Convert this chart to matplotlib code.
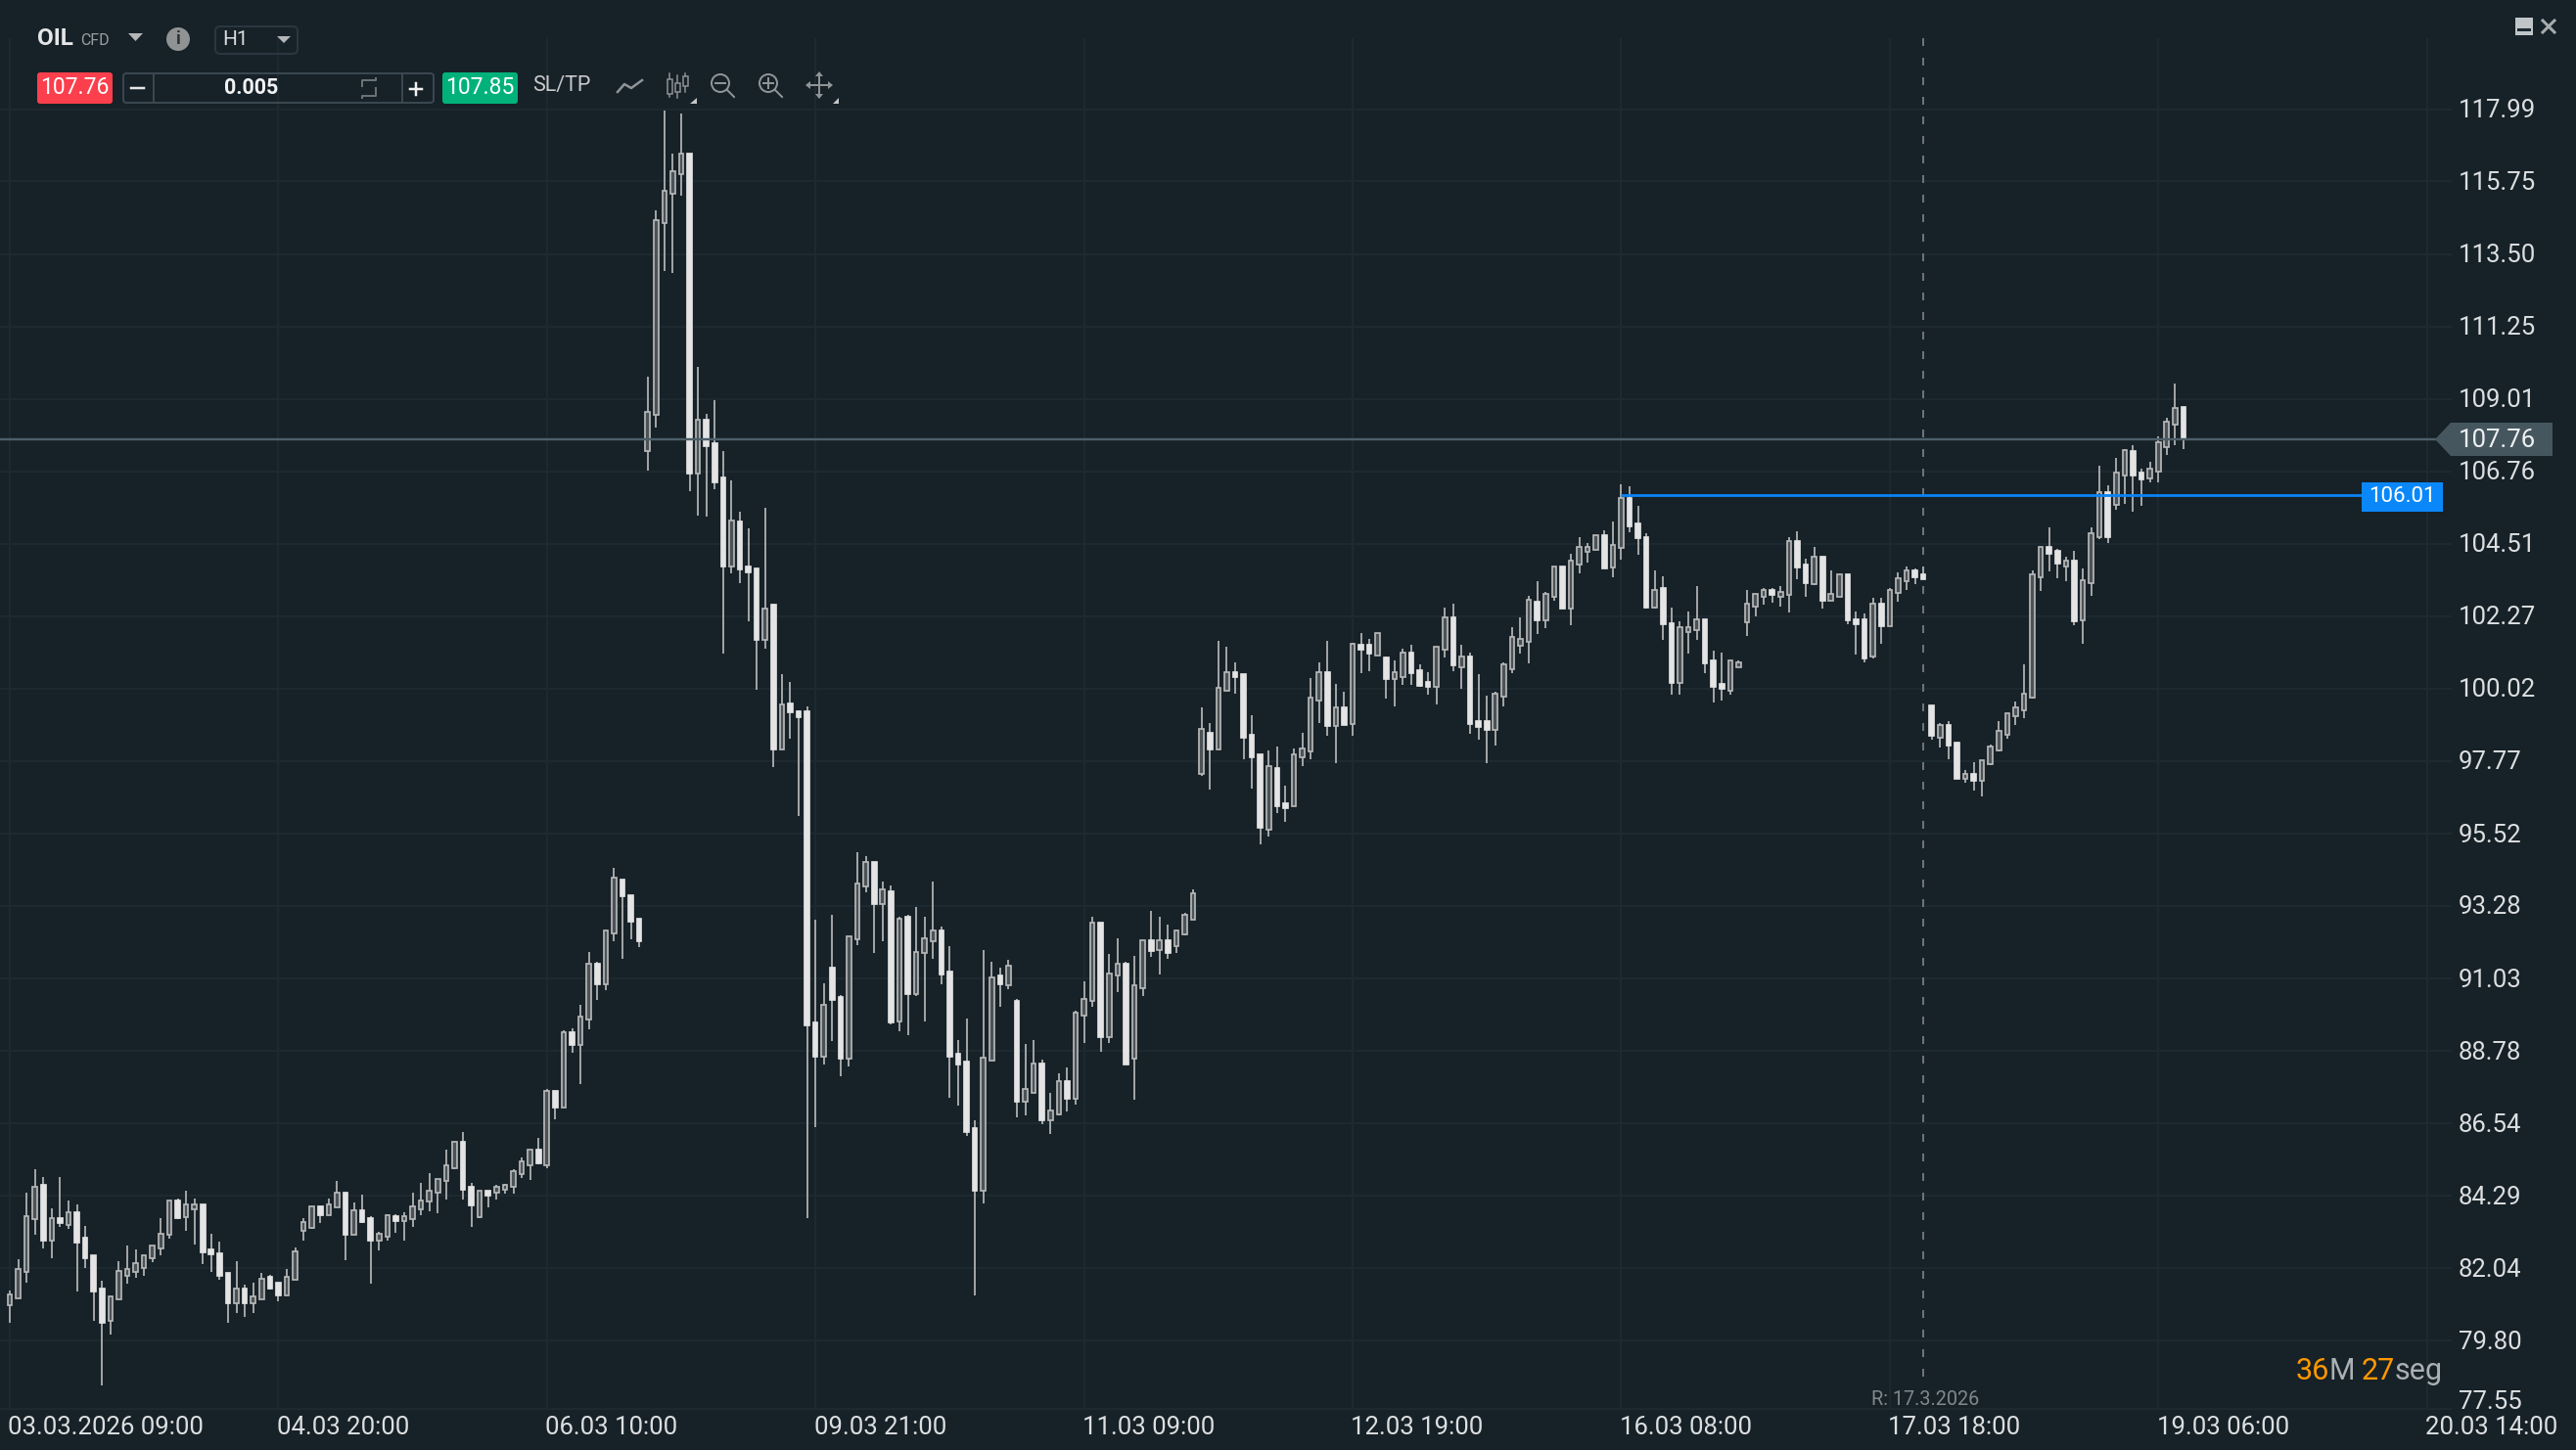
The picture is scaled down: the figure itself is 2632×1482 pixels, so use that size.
import matplotlib
matplotlib.use("Agg")
import matplotlib.pyplot as plt
from matplotlib import transforms
from matplotlib.patches import FancyBboxPatch, Rectangle, Polygon, Circle

opens = [80.90,81.10,81.93,83.57,84.62,82.90,83.59,83.38,83.77,82.99,
82.46,81.42,80.41,81.07,81.81,81.93,82.05,82.36,82.66,83.07,
84.15,83.63,83.87,84.03,82.63,82.51,81.90,80.95,81.41,80.95,
81.07,81.78,81.60,81.19,81.68,83.20,83.30,83.97,83.68,83.93,
84.39,83.08,83.84,83.60,82.89,83.01,83.66,83.51,83.57,83.87,
84.12,84.38,84.74,85.14,85.98,84.58,83.64,84.45,84.38,84.48,
84.56,84.96,85.23,85.73,85.25,87.55,87.03,89.37,88.97,89.76,
91.50,90.85,92.44,94.11,93.62,92.89,107.39,108.52,114.47,115.36,
115.97,116.62,106.68,108.35,107.64,106.56,103.82,105.21,103.82,103.75,
101.52,102.61,98.12,99.57,99.33,99.31,89.67,88.60,91.37,90.46,
88.54,92.25,93.88,94.65,93.33,93.74,89.69,92.95,90.54,91.82,
92.19,92.52,91.25,88.70,88.46,86.39,84.46,88.48,91.13,90.82,
90.34,87.20,87.49,88.40,86.64,86.82,87.85,87.30,89.87,90.34,
92.77,89.21,91.13,91.49,88.56,90.74,92.22,91.90,92.22,92.02,
92.40,92.86,97.38,98.65,98.12,99.94,100.53,100.47,98.59,97.98,
95.64,97.56,96.47,96.36,97.88,98.08,99.64,100.53,98.85,99.44,
98.92,101.38,101.38,101.06,100.98,100.31,100.37,101.14,100.59,100.23,
100.08,101.23,102.23,100.67,101.02,99.01,99.01,98.73,99.77,100.61,
101.34,101.47,102.72,102.14,102.87,103.81,102.49,103.88,104.25,104.31,
104.79,103.79,104.38,105.93,105.14,104.72,102.54,103.14,102.05,100.19,
101.78,101.83,102.17,100.90,100.17,99.95,100.69,102.07,102.57,102.87,
103.08,102.87,102.93,104.60,103.87,103.26,104.12,102.75,102.87,103.57,
102.17,102.17,101.02,102.66,101.96,103.00,103.36,103.69,103.57,99.50,
98.50,98.90,98.35,97.23,97.38,97.17,97.68,98.11,98.59,99.17,
99.35,99.74,103.47,104.42,104.30,103.81,103.99,102.13,103.29,104.72,
106.12,105.71,106.62,107.40,106.73,106.55,106.76,107.52,108.21,108.74]

highs = [81.36,82.32,84.39,85.12,84.88,83.90,84.88,84.16,84.03,83.36,
82.46,81.66,81.17,82.27,82.75,82.63,82.46,82.75,83.60,84.15,
84.21,84.45,84.21,84.03,83.12,82.87,81.90,82.27,81.54,81.60,
81.90,81.84,81.60,82.02,82.69,83.60,83.97,83.97,84.21,84.75,
84.39,84.09,84.33,83.66,83.18,83.72,83.72,83.78,84.39,84.69,
85.00,84.80,85.73,85.98,86.28,84.70,84.46,84.45,84.62,84.65,
85.11,85.49,85.73,86.10,87.61,87.55,89.43,89.50,90.22,91.86,
91.56,92.53,94.47,94.11,93.62,92.89,109.68,114.84,117.93,116.62,
117.84,116.62,109.99,108.54,108.97,107.39,106.48,105.52,104.98,103.75,
105.64,102.65,100.47,100.24,99.36,99.48,92.84,90.88,93.01,90.51,
92.34,94.96,94.83,94.65,94.04,93.92,92.94,93.01,93.26,92.95,
94.04,92.64,92.04,89.12,89.79,86.64,91.92,91.55,91.37,91.61,
90.40,89.00,89.12,88.52,87.49,88.09,88.28,90.03,90.94,92.95,
92.77,91.79,92.28,91.55,91.73,92.22,93.13,92.95,92.70,92.52,
93.07,93.80,99.44,98.95,101.50,101.32,100.83,100.47,99.20,97.98,
98.10,98.22,97.01,98.16,98.65,100.35,100.83,101.50,100.17,99.92,
101.44,101.74,101.56,101.74,101.02,100.89,101.26,101.38,100.77,100.53,
101.32,102.53,102.65,101.38,101.14,100.47,99.80,99.92,100.83,101.93,
102.23,102.90,103.35,103.02,103.81,103.81,104.19,104.73,104.55,104.79,
104.92,105.21,106.36,106.30,105.69,104.84,103.69,103.51,102.54,102.11,
102.41,103.20,102.17,101.20,101.14,100.90,100.90,103.08,102.96,103.14,
103.14,103.20,104.72,104.90,104.05,104.42,104.12,103.69,103.57,103.57,
102.41,102.35,102.84,102.84,103.14,103.63,103.81,103.75,103.81,99.50,
98.96,99.02,98.35,97.50,97.74,97.80,98.29,99.02,99.26,99.62,
100.78,103.69,104.42,105.02,104.36,104.11,104.30,103.75,105.02,106.92,
106.31,107.16,107.46,107.58,106.85,107.04,107.83,108.41,109.47,108.74]

lows = [80.34,81.10,81.61,83.08,82.65,82.35,83.32,83.26,81.32,82.04,
80.41,78.40,79.98,81.07,81.56,81.74,81.80,82.22,82.46,82.95,
83.56,83.20,82.77,82.16,81.92,81.68,80.34,80.65,80.53,80.65,
81.07,81.38,81.01,81.19,81.68,82.89,83.26,83.44,83.68,83.93,
82.29,83.08,83.44,81.56,82.59,82.89,83.14,82.89,83.32,83.68,
83.80,83.74,84.18,85.11,84.18,83.34,83.59,83.94,84.18,84.35,
84.35,84.84,84.78,85.26,85.15,86.66,87.03,88.73,87.76,89.45,
90.37,90.67,92.19,91.64,92.25,92.00,106.79,108.13,112.98,112.92,
115.30,106.14,105.39,105.35,106.20,101.11,103.58,103.29,102.11,99.99,
101.26,97.58,98.12,98.47,96.06,83.61,86.41,88.36,89.08,87.99,
88.30,92.06,93.70,91.81,92.18,89.61,89.39,89.27,90.48,89.69,
91.63,90.84,87.32,87.08,86.15,81.20,84.05,88.48,90.16,90.70,
86.72,86.78,87.49,86.52,86.21,86.78,86.90,87.12,89.02,90.16,
88.76,89.02,90.60,88.36,87.26,90.48,91.69,91.15,91.63,91.81,
92.36,92.86,97.32,96.89,98.12,99.94,99.86,97.82,96.91,95.19,
95.43,96.16,95.88,96.36,97.62,97.82,98.95,98.55,97.70,98.89,
98.55,100.49,100.55,101.06,99.70,99.46,100.13,100.13,100.07,99.82,
99.52,100.98,100.55,100.00,98.61,98.43,97.70,98.25,99.46,100.49,
101.10,100.79,101.70,101.89,102.73,102.49,102.00,103.58,103.94,104.31,
103.76,103.47,104.01,104.87,104.17,102.50,102.50,101.52,99.82,99.82,
101.10,101.52,100.49,99.58,99.65,99.82,100.69,101.65,102.25,102.62,
102.68,102.56,102.38,103.41,102.86,103.22,102.50,102.75,102.87,102.01,
101.08,100.84,100.96,101.40,101.96,102.72,103.08,103.26,103.42,98.43,
98.19,97.82,97.21,97.10,96.85,96.67,97.64,98.07,98.47,98.90,
99.10,99.70,103.04,103.65,103.45,103.35,101.99,101.40,102.90,104.67,
104.55,105.58,105.76,105.52,105.70,106.42,106.42,107.28,107.58,107.46]

closes = [81.22,82.01,83.65,84.56,82.90,83.59,83.44,83.77,82.83,82.35,
81.32,80.34,81.17,81.95,82.01,82.20,82.44,82.74,83.12,84.15,
83.60,84.03,84.03,82.53,82.47,81.80,80.95,81.41,80.95,81.16,
81.72,81.42,81.19,81.78,82.57,83.48,83.97,83.68,84.03,84.39,
83.08,83.84,83.48,82.89,83.12,83.68,83.50,83.66,83.97,84.15,
84.44,84.80,85.25,85.98,84.48,84.01,84.46,84.30,84.58,84.62,
85.07,85.37,85.73,85.31,87.55,87.03,89.37,88.97,89.86,91.50,
90.85,92.53,94.17,93.58,92.79,92.19,108.60,114.54,115.46,116.06,
116.62,106.68,108.35,107.55,106.43,103.82,105.24,103.72,103.63,101.52,
102.51,98.12,99.54,99.28,99.14,89.57,88.60,90.22,90.36,88.54,
92.34,93.98,94.65,93.33,93.80,89.67,92.89,90.54,91.86,92.28,
92.52,91.15,88.60,88.36,86.27,84.46,88.58,91.07,90.84,91.43,
87.20,87.61,88.40,86.64,86.94,87.85,87.30,89.97,90.40,92.77,
89.21,91.19,91.49,88.36,90.82,92.22,91.88,92.22,91.81,92.52,
93.01,93.68,98.77,98.12,100.05,100.53,100.38,98.49,97.88,95.70,
97.62,96.36,96.30,97.98,98.16,99.74,100.53,98.85,99.44,98.89,
101.40,101.22,101.10,101.74,100.31,100.53,101.14,100.49,100.11,100.08,
101.32,102.23,100.73,101.02,98.92,98.83,98.73,99.86,100.77,101.62,
101.56,102.78,102.14,102.96,103.81,102.49,104.00,104.42,104.42,104.79,
103.76,104.48,105.93,105.05,104.69,102.54,103.08,102.02,100.19,101.93,
101.93,102.17,100.80,100.07,100.02,100.90,100.84,102.66,102.96,103.08,
102.93,103.02,104.60,103.79,103.30,104.12,102.75,102.95,103.57,102.14,
102.02,100.96,102.66,101.96,103.08,103.45,103.69,103.47,103.42,98.55,
98.90,98.25,97.21,97.38,97.17,97.80,98.23,98.71,99.26,99.44,
99.87,103.57,104.42,104.19,103.89,103.99,102.11,103.39,104.84,106.12,
104.72,106.72,107.42,106.62,106.51,106.85,107.65,108.29,108.73,107.76]

price_ticks = [117.99,115.75,113.50,111.25,109.01,106.76,104.51,102.27,100.02,97.77,
               95.52,93.28,91.03,88.78,86.54,84.29,82.04,79.80,77.55]
time_positions = [0,32,64,96,128,160,192,224,256,288]
time_labels = ['03.03.2026 09:00','04.03 20:00','06.03 10:00','09.03 21:00','11.03 09:00',
               '12.03 19:00','16.03 08:00','17.03 18:00','19.03 06:00','20.03 14:00']
current_price = 107.76
ask_price = 107.85
level_price = 106.01
level_start = 192
cross_index = 228

assert len(opens) == len(highs) == len(lows) == len(closes)

W, H = 2632, 1482
BG = '#172128'; GRID = '#1d2930'
FILL = '#e4e4e4'; EDGE = '#b8b9b9'; WICK = '#a8aaab'; INNER = '#4b5357'
plt.rcParams['font.family'] = ['Roboto', 'DejaVu Sans']

fig = plt.figure(figsize=(W/100, H/100), dpi=100, facecolor=BG)
ax = fig.add_axes([0, 0, 1, 1], facecolor=BG)
ax.set_xlim(-10/8.575, (W-10)/8.575)
ax.set_ylim(109.01-(H-407.5)/32.96, 109.01+407.5/32.96)
ax.axis('off')
ui = fig.add_axes([0, 0, 1, 1], facecolor='none')
ui.set_xlim(0, W); ui.set_ylim(H, 0); ui.axis('off')

px = 0.72  # points per pixel
# grid
grid_bottom = 77.67
ax.vlines(time_positions, grid_bottom, 120.2, color=GRID, lw=2*px, zorder=1)
grid_vals = price_ticks[:-1] + [grid_bottom]
ax.hlines(grid_vals, -1.2, 291, color=GRID, lw=2*px, zorder=1)

# candles
idx = list(range(len(opens)))
ax.vlines(idx, lows, highs, color=WICK, lw=1.9*px, zorder=3)
bw = 4.6/8.575
up = [i for i in idx if closes[i] >= opens[i]]
dn = [i for i in idx if closes[i] < opens[i]]
ax.bar(up, [closes[i]-opens[i] for i in up], bottom=[opens[i] for i in up], width=bw,
       facecolor=INNER, edgecolor=EDGE, linewidth=1.7*px, zorder=4)
ax.bar(dn, [opens[i]-closes[i] for i in dn], bottom=[closes[i] for i in dn], width=bw,
       facecolor=FILL, edgecolor=FILL, linewidth=1.7*px, zorder=4)

# price lines
ax.hlines(current_price, -1.2, (2490-10)/8.575, color='#4c5f69', lw=2.4*px, zorder=5)
ax.hlines(level_price, level_start, (2415-10)/8.575, color='#0a84f5', lw=2.8*px, zorder=6)
ax.vlines(cross_index, 78.7, 120.2, color='#6c7478', lw=2*px, linestyles=(0, (4, 6)), zorder=2)

# axis labels
yt = transforms.blended_transform_factory(ui.transData, ax.transData)
xt = transforms.blended_transform_factory(ax.transData, ui.transData)
TXT = '#dcdfe0'
FS = 18.5
dy = transforms.ScaledTranslation(0, -1.5/100, fig.dpi_scale_trans)
for v in price_ticks[:-1]:
    ui.text(2512, v, f'{v:.2f}', transform=yt + dy, color=TXT, fontsize=FS, va='center', ha='left', zorder=9)
ui.text(2512, 1433, f'{price_ticks[-1]:.2f}', color=TXT, fontsize=FS, va='center', ha='left')
dx = transforms.ScaledTranslation(-1.5/100, 0, fig.dpi_scale_trans)
for p, l in zip(time_positions, time_labels):
    ui.text(p, 1459, l, transform=xt + dx, color=TXT, fontsize=FS, va='center', ha='left')

# current price tag
ui.add_patch(Polygon([(2488, 449), (2504, 432), (2608, 432), (2608, 466), (2504, 466)], color='#45565f', lw=0, zorder=7))
ui.text(2512, current_price, f'{current_price:.2f}', transform=yt + dy, color='#eef0f1', fontsize=FS, va='center', ha='left', zorder=9)
# level tag
ui.add_patch(Rectangle((2413, 493), 83, 30, color='#0a88fa', lw=0, zorder=7))
ui.text(2454.5, level_price, f'{level_price:.2f}', transform=yt + dy, color='white', fontsize=16, va='center', ha='center', zorder=9)

# countdown
for x, s, c in [(2346, '36', '#ff9800'), (2380, 'M', '#aab0b3'), (2413, '27', '#ff9800'), (2447, 'seg', '#aab0b3')]:
    ui.text(x, 1402, s, color=c, fontsize=22, va='center', ha='left')
ui.text(1912, 1431, 'R: 17.3.2026', color='#81888c', fontsize=14.3, va='center', ha='left')

# toolbar row 1
ui.text(38, 40, 'OIL', color='#e4e6e7', fontsize=17.5, fontweight='bold', va='center', ha='left')
ui.text(82, 41, 'CFD', color='#9a9fa3', fontsize=11.5, va='center', ha='left')
ui.add_patch(Polygon([(131, 34), (146, 34), (138.5, 42)], color='#b4b6b7', lw=0))
ui.add_patch(Circle((182, 40), 12, color='#8f9394', lw=0))
ui.text(182, 40, 'i', color='#2a3238', fontsize=13, fontweight='bold', va='center', ha='center')
ui.add_patch(FancyBboxPatch((220, 27), 84, 28, boxstyle='round,pad=0,rounding_size=5', fc='none', ec='#2a3740', lw=2*px))
ui.text(227, 41, 'H1', color='#d8dadb', fontsize=15, va='center', ha='left')
ui.add_patch(Polygon([(283, 37), (297, 37), (290, 44)], color='#b4b6b7', lw=0))

# toolbar row 2
ui.add_patch(FancyBboxPatch((38, 74), 77, 32, boxstyle='round,pad=0,rounding_size=3', fc='#fb3f4c', ec='none'))
ui.text(76.5, 90, f'{current_price:.2f}', color='white', fontsize=16.5, va='center', ha='center')
ui.add_patch(FancyBboxPatch((126, 75), 317, 30, boxstyle='round,pad=0,rounding_size=3', fc='none', ec='#3a4750', lw=2*px))
ui.plot([157, 157], [75, 105], color='#3a4750', lw=2*px)
ui.plot([411, 411], [75, 105], color='#3a4750', lw=2*px)
ui.plot([134, 147], [90, 90], color='#e8e8e8', lw=2.5*px)
ui.plot([419, 431], [91, 91], color='#f2f2f2', lw=2.5*px)
ui.plot([425, 425], [85, 97], color='#f2f2f2', lw=2.5*px)
ui.text(257, 90, '0.005', color='#f2f2f2', fontsize=15.5, fontweight='bold', va='center', ha='center')
ui.plot([370, 370, 384, 384], [88, 82, 82, 80], color='#6a7276', lw=2*px)
ui.plot([384, 384, 370, 370], [90, 98, 98, 100], color='#6a7276', lw=2*px)
ui.add_patch(FancyBboxPatch((452, 74), 77, 32, boxstyle='round,pad=0,rounding_size=3', fc='#00b27a', ec='none'))
ui.text(490.5, 90, f'{ask_price:.2f}', color='white', fontsize=16.5, va='center', ha='center')
ui.text(574, 88, 'SL/TP', color='#c8cacb', fontsize=15.5, va='center', ha='center')
ICON = '#8f9497'
ui.plot([631, 638, 645, 656], [94, 86, 90, 82], color=ICON, lw=2.5*px)
for x, y0, y1, t, b in [(684, 75, 99, 81, 96), (692, 77, 100, 85, 94), (700, 75, 94, 78, 88)]:
    ui.plot([x, x], [y0, y1], color=ICON, lw=1.5*px)
    ui.add_patch(Rectangle((x-2.5, t), 5, b-t, fc=BG, ec=ICON, lw=1.5*px, zorder=3))
for pts in ([(705, 106), (712, 106), (712, 100)], [(851, 106), (857, 106), (857, 100)]):
    ui.add_patch(Polygon(pts, color='#c4c6c7', lw=0))
for cx, plus in [(736, False), (785, True)]:
    ui.add_patch(Circle((cx, 85), 9, fc='none', ec=ICON, lw=2*px))
    ui.plot([cx-5, cx+5], [85, 85], color=ICON, lw=2*px)
    if plus:
        ui.plot([cx, cx], [80, 90], color=ICON, lw=2*px)
    ui.plot([cx+7, cx+14], [92, 99], color=ICON, lw=2*px)
ui.plot([825, 849], [87, 87], color=ICON, lw=2*px)
ui.plot([837, 837], [75, 99], color=ICON, lw=2*px)
for pts in ([(837, 73), (833, 78), (841, 78)], [(837, 101), (833, 96), (841, 96)],
            [(823, 87), (828, 83), (828, 91)], [(851, 87), (846, 83), (846, 91)]):
    ui.add_patch(Polygon(pts, color=ICON, lw=0))

# window controls
ui.add_patch(Rectangle((2570, 18), 18, 18, color='#c0c5c8', lw=0))
ui.add_patch(Rectangle((2572, 29), 14, 3, color='#1d2a31', lw=0))
ui.plot([2598, 2610], [21, 33], color='#a8acae', lw=3*px)
ui.plot([2610, 2598], [21, 33], color='#a8acae', lw=3*px)
ui.set_xlim(0, W); ui.set_ylim(H, 0)

fig.savefig('out.png', dpi=100, facecolor=BG)
